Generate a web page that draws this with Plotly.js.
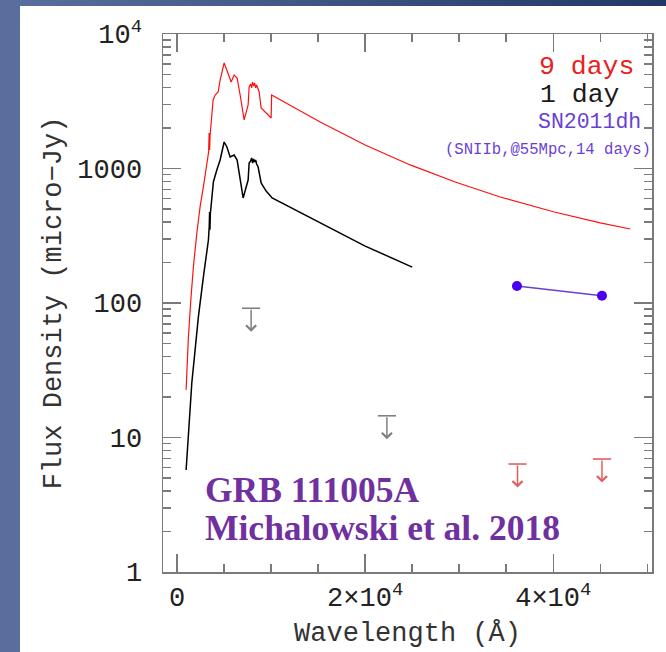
<!DOCTYPE html>
<html>
<head>
<meta charset="utf-8">
<script src="https://cdn.plot.ly/plotly-3.0.1.min.js"></script>
<style>
  html, body { margin: 0; padding: 0; background: #ffffff; }
  #wrap { position: relative; width: 666px; height: 652px; overflow: hidden; background: #ffffff; }
  #leftbar { position: absolute; left: 0; top: 0; width: 20px; height: 652px; background: #5a6e9e; }
  #topbar { position: absolute; left: 0; top: 0; width: 666px; height: 6px; background: linear-gradient(to right, #5a6fa0, #233766); }
  #chart { position: absolute; left: 0; top: 0; width: 666px; height: 652px; }
</style>
</head>
<body>
<div id="wrap">
  <div id="leftbar"></div>
  <div id="topbar"></div>
  <div id="chart"></div>
</div>
<script>
// ---- data ----
// 9 days model spectrum (red)
const wave9 = [957, 1202, 1457, 1734, 2096, 2447, 2798, 3085, 3351, 3404, 3457, 3511, 3830, 4043, 4362, 4574, 5000, 5287, 5745, 6064, 6383, 6702, 7128, 7553, 7660, 7819, 7925, 8032, 8138, 8245, 8351, 8457, 8564, 8723, 8936, 9362, 9681, 10000, 10053, 12660, 15213, 20000, 24787, 29574, 34361, 40106, 45000, 48190];
const flux9 = [22.6, 56.2, 105, 186, 330, 520, 733, 975, 1327, 1836, 1373, 1775, 3230, 3516, 3706, 4550, 6087, 5400, 4395, 4955, 4710, 3520, 2296, 2966, 4036, 4250, 3970, 4395, 4105, 4320, 3970, 4180, 3900, 3706, 2818, 2630, 2500, 2373, 3520, 2770, 2218, 1497, 1063, 794, 614, 475, 394, 355];
// 1 day model spectrum (black)
const wave1 = [957, 1202, 1564, 1915, 2266, 2798, 3160, 3330, 3420, 3457, 3490, 3532, 3692, 3862, 4223, 4574, 5000, 5287, 5638, 6064, 6383, 6702, 7021, 7553, 7660, 7819, 7925, 8032, 8138, 8245, 8351, 8457, 8617, 8936, 9468, 10106, 15213, 20000, 25000];
const flux1 = [5.73, 10.8, 25.4, 44.8, 79.1, 157, 248, 294, 373, 475, 351, 459, 583, 798, 975, 1156, 1574, 1452, 1218, 1260, 1156, 836, 604, 821, 1099, 1137, 1197, 1099, 1177, 1118, 1156, 1080, 1026, 780, 680, 604, 394, 265, 185];
// SN2011dh points (purple)
const snWave = [36140, 45180];
const snFlux = [133.8, 113.3];
// upper limits, 1 day (gray) and 9 days (red)
const limWave1 = [7870, 22310];
const limFlux1 = [91.4, 14.5];
const limWave9 = [36200, 45180];
const limFlux9 = [6.35, 6.92];
// axis ticks and labels
const yTickVals = [1, 10, 100, 1000, 10000];
const yTickText = ['1', '10', '100', '1000', '10<sup>4</sup>'];
const yMinorVals = [2,3,4,5,6,7,8,9,20,30,40,50,60,70,80,90,200,300,400,500,600,700,800,900,2000,3000,4000,5000,6000,7000,8000,9000];
const xTickVals = [0, 20000, 40000];
const xTickText = ['0', '2×10<sup>4</sup>', '4×10<sup>4</sup>'];
const labels = [
  {text: '9 days', x: 38300, y: 5690, color: '#e8201e', size: 26.5},
  {text: '1 day', x: 38400, y: 3520, color: '#1a1a1a', size: 26.5},
  {text: 'SN2011dh', x: 38190, y: 2218, color: '#6a3fd8', size: 21.5},
  {text: '(SNIIb,@55Mpc,14 days)', x: 28297, y: 1375, color: '#6a3fd8', size: 15.6}
];
const creditLines = ['GRB 111005A', 'Michalowski et al. 2018'];
const creditY = [4.1, 2.12];

// ---- styling ----
const AX = '#7a7a7a';
const MONO = "'Liberation Mono', 'DejaVu Sans Mono', monospace";
const ARROW_DEX = 0.175;

const traces = [
  {x: wave9, y: flux9, mode: 'lines', line: {color: '#ff1010', width: 1.2}, hoverinfo: 'skip'},
  {x: wave1, y: flux1, mode: 'lines', line: {color: '#000000', width: 1.5}, hoverinfo: 'skip'},
  {x: snWave, y: snFlux, mode: 'lines+markers', line: {color: '#6a40d0', width: 1.5},
   marker: {color: '#4a00f0', size: 10}, hoverinfo: 'skip'},
  {x: limWave1, y: limFlux1, mode: 'markers', marker: {symbol: 'line-ew', size: 13, line: {color: '#808080', width: 1.6}}, hoverinfo: 'skip'},
  {x: limWave9, y: limFlux9, mode: 'markers', marker: {symbol: 'line-ew', size: 13, line: {color: '#e06060', width: 1.6}}, hoverinfo: 'skip'}
];

const annotations = [];
function addArrows(ws, fs, color) {
  ws.forEach((w, i) => {
    const ly = Math.log10(fs[i]);
    annotations.push({
      x: w, y: ly - ARROW_DEX, ax: w, ay: ly, xref: 'x', yref: 'y', axref: 'x', ayref: 'y',
      text: '', showarrow: true, arrowhead: 4, arrowsize: 1.3, arrowwidth: 1.5, arrowcolor: color, standoff: 0, startstandoff: 0
    });
  });
}
addArrows(limWave1, limFlux1, '#808080');
addArrows(limWave9, limFlux9, '#e06060');
labels.forEach(l => {
  annotations.push({x: l.x, y: Math.log10(l.y), xref: 'x', yref: 'y', text: l.text, showarrow: false,
    xanchor: 'left', yanchor: 'middle', font: {family: MONO, size: l.size, color: l.color}});
});
creditLines.forEach((t, i) => {
  annotations.push({x: 2700, y: Math.log10(creditY[i]), xref: 'x', yref: 'y', text: '<b>' + t + '</b>', showarrow: false,
    xanchor: 'left', yanchor: 'middle', font: {family: "'Liberation Serif', 'Times New Roman', serif", size: 35.5, color: '#7030a0'}});
});

const layout = {
  width: 666, height: 652,
  margin: {l: 163, r: 14, t: 34, b: 80, pad: 0},
  paper_bgcolor: 'rgba(0,0,0,0)',
  plot_bgcolor: '#ffffff',
  showlegend: false,
  font: {family: MONO, color: '#222222'},
  xaxis: {
    range: [-1500, 50500], showgrid: false, zeroline: false,
    showline: true, linecolor: AX, linewidth: 1.5, mirror: 'ticks',
    ticks: 'inside', ticklen: 18, tickwidth: 1.5, tickcolor: AX,
    tickmode: 'array', tickvals: xTickVals, ticktext: xTickText,
    tickfont: {family: MONO, size: 27, color: '#222222'},
    minor: {ticks: 'inside', ticklen: 8, tickwidth: 1.5, tickcolor: AX, tickmode: 'linear', tick0: 0, dtick: 5000, showgrid: false},
    title: {text: 'Wavelength (Å)', font: {family: MONO, size: 27, color: '#333333'}, standoff: 9},
    automargin: false
  },
  yaxis: {
    type: 'log', range: [0, 4], showgrid: false, zeroline: false,
    showline: true, linecolor: AX, linewidth: 1.5, mirror: 'ticks',
    ticks: 'inside', ticklen: 18, tickwidth: 1.5, tickcolor: AX,
    tickmode: 'array', tickvals: yTickVals, ticktext: yTickText,
    tickfont: {family: MONO, size: 27, color: '#222222'},
    ticklabelstandoff: 14,
    minor: {ticks: 'inside', ticklen: 8, tickwidth: 1.5, tickcolor: AX, tickmode: 'array', tickvals: yMinorVals, showgrid: false},
    title: {text: 'Flux Density (micro−Jy)', font: {family: MONO, size: 27, color: '#333333'}, standoff: 8},
    automargin: false
  },
  annotations: annotations
};

Plotly.newPlot('chart', traces, layout, {displayModeBar: false, staticPlot: true});
</script>
</body>
</html>
